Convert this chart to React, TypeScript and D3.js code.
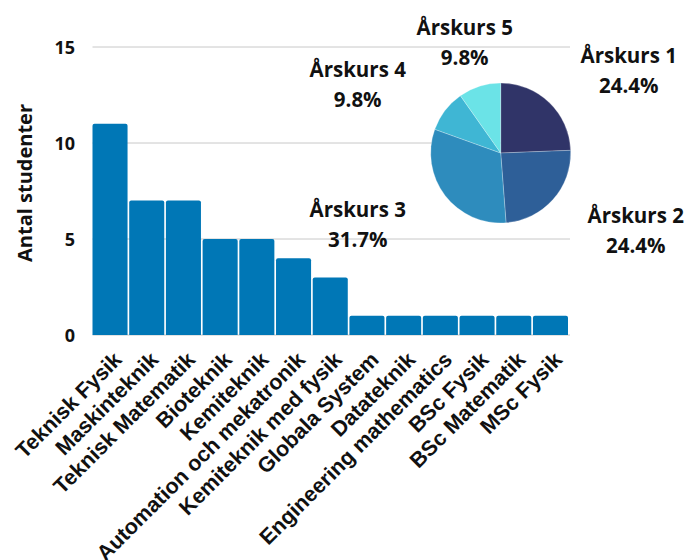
import React from 'react';
import * as d3 from 'd3';

// program counts
const programs = [
  'Teknisk Fysik', 'Maskinteknik', 'Teknisk Matematik', 'Bioteknik', 'Kemiteknik',
  'Automation och mekatronik', 'Kemiteknik med fysik', 'Globala System', 'Datateknik',
  'Engineering mathematics', 'BSc Fysik', 'BSc Matematik', 'MSc Fysik',
];
const students = [11, 7, 7, 5, 5, 4, 3, 1, 1, 1, 1, 1, 1];
const yTicks = [0, 5, 10, 15];

// year split
const years = ['Årskurs 1', 'Årskurs 2', 'Årskurs 3', 'Årskurs 4', 'Årskurs 5'];
const yearCounts = [10, 10, 13, 4, 4];
const yearColors = ['#303468', '#2e5f98', '#2e8cbd', '#3fb6d4', '#6be3e7'];

// label placement relative to pie centre (layout only)
const pieLabelOffsets: [number, number][] = [
  [128, -90], [135, 70], [-143, 64], [-143, -76], [-36, -118],
];

const W = 690, H = 560;
const margin = { top: 47, right: 120, bottom: 225, left: 92.5 };
const boldFont = "'Open Sans', 'Noto Sans', sans-serif";

const App = () => {
  const x = d3.scaleBand<string>()
    .domain(programs)
    .range([margin.left, 568])
    .paddingInner(0.045)
    .paddingOuter(0);
  const y = d3.scaleLinear().domain([0, 15]).range([H - margin.bottom, margin.top]);

  const barPath = (x0: number, y0: number, w: number, h: number) => {
    const r = 2;
    const p = d3.path();
    p.moveTo(x0, y0 + h);
    p.lineTo(x0, y0 + r);
    p.quadraticCurveTo(x0, y0, x0 + r, y0);
    p.lineTo(x0 + w - r, y0);
    p.quadraticCurveTo(x0 + w, y0, x0 + w, y0 + r);
    p.lineTo(x0 + w, y0 + h);
    p.closePath();
    return p.toString();
  };

  const pieCx = 500.7, pieCy = 153, pieR = 70;
  const total = d3.sum(yearCounts);
  const arcs = d3.pie<number>().sort(null)(yearCounts);
  const arc = d3.arc<d3.PieArcDatum<number>>().innerRadius(0).outerRadius(pieR);

  return (
    <div style={{ position: 'absolute', left: 0, top: 0 }}>
      <svg width={W} height={H} style={{ display: 'block', background: '#fff' }}>
        {yTicks.map(t => (
          <g key={t}>
            <line x1={margin.left} x2={570} y1={y(t)} y2={y(t)} stroke="#c8c8c8" strokeWidth={1} />
            <text x={75} y={y(t) + 2} textAnchor="end" dominantBaseline="middle"
              fontFamily={boldFont} fontWeight="bold" fontSize={18} fill="#111">{t}</text>
          </g>
        ))}
        <text transform={`translate(32,183) rotate(-90)`} textAnchor="middle"
          fontFamily={boldFont} fontWeight="bold" fontSize={20} fill="#111">Antal studenter</text>

        {programs.map((p, i) => (
          <path key={p} d={barPath(x(p)!, y(students[i]), x.bandwidth(), y(0) - y(students[i]))}
            fill="#0077b6" />
        ))}

        {programs.map(p => (
          <text key={p} transform={`translate(${x(p)! + x.bandwidth() / 2 + 13},361) rotate(-45)`}
            textAnchor="end" fontFamily="Liberation Sans, Arial" fontWeight="bold" fontSize={21.5}
            fill="#111">{p}</text>
        ))}

        <g transform={`translate(${pieCx},${pieCy})`}>
          {arcs.map((a, i) => (
            <path key={years[i]} d={arc(a)!} fill={yearColors[i]} stroke="#fff" strokeWidth={0.5} strokeOpacity={0.5} />
          ))}
          {arcs.map((a, i) => (
            <text key={years[i]} x={pieLabelOffsets[i][0]} y={pieLabelOffsets[i][1]} textAnchor="middle"
              fontFamily="Open Sans" fontWeight="bold" fontSize={20.5} fill="#111">
              <tspan x={pieLabelOffsets[i][0]}>{years[i]}</tspan>
              <tspan x={pieLabelOffsets[i][0]} dy={30}>{(a.value / total * 100).toFixed(1)}%</tspan>
            </text>
          ))}
        </g>
      </svg>
    </div>
  );
};

export default App;
